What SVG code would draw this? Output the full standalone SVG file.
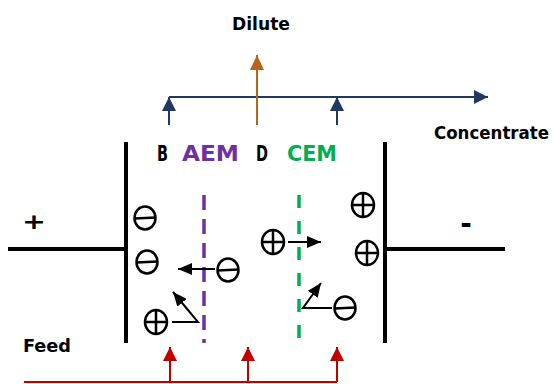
<svg xmlns="http://www.w3.org/2000/svg" width="553" height="384" viewBox="0 0 553 384">
  <style>
    .lbl { font-family: "DejaVu Sans", Verdana, sans-serif; font-weight: bold; }
    .electrode { stroke: #000; stroke-width: 4; fill: none; }
    .ion { fill: none; stroke: #000; stroke-width: 2.5; }
    .move { fill: none; stroke: #000; stroke-width: 2; marker-end: url(#headBlack); }
    .blue { stroke: #1F3864; stroke-width: 2; fill: none; marker-end: url(#headBlue); }
    .red { stroke: #C00000; stroke-width: 2; fill: none; }
    .redArrow { stroke: #C00000; stroke-width: 2; fill: none; marker-end: url(#headRed); }
    .orange { stroke: #B8651B; stroke-width: 2; fill: none; marker-end: url(#headOrange); }
  </style>
  <defs>
    <marker id="headBlue" markerUnits="userSpaceOnUse" markerWidth="14" markerHeight="14" refX="14" refY="7" orient="auto">
      <path d="M0,0 L14,7 L0,14 z" fill="#1F3864"/>
    </marker>
    <marker id="headOrange" markerUnits="userSpaceOnUse" markerWidth="15" markerHeight="14" refX="15" refY="7" orient="auto">
      <path d="M0,0 L15,7 L0,14 z" fill="#B8651B"/>
    </marker>
    <marker id="headRed" markerUnits="userSpaceOnUse" markerWidth="14" markerHeight="14" refX="14" refY="7" orient="auto">
      <path d="M0,0 L14,7 L0,14 z" fill="#C00000"/>
    </marker>
    <marker id="headBlack" markerUnits="userSpaceOnUse" markerWidth="14" markerHeight="12" refX="14" refY="6" orient="auto">
      <path d="M0,0 L14,6 L0,12 z" fill="#000"/>
    </marker>
    <g id="anion">
      <ellipse cx="0" cy="0" rx="10.5" ry="11.5" class="ion"/>
      <line x1="-10.5" y1="0.5" x2="10.5" y2="-0.5" class="ion"/>
    </g>
    <g id="cation">
      <ellipse cx="0" cy="0" rx="11" ry="12" class="ion"/>
      <line x1="-11" y1="0" x2="11" y2="0" class="ion"/>
      <line x1="0" y1="-12" x2="0" y2="12" class="ion"/>
    </g>
  </defs>

  <rect width="553" height="384" fill="#fff"/>

  <!-- electrodes -->
  <g id="anode">
    <line x1="126" y1="142" x2="126" y2="343" class="electrode"/>
    <line x1="8" y1="249" x2="126" y2="249" class="electrode"/>
    <text class="lbl" x="0" y="0" font-size="22" text-anchor="middle" transform="translate(34,229) scale(1.3,1)">+</text>
  </g>
  <g id="cathode">
    <line x1="385" y1="142" x2="385" y2="343" class="electrode"/>
    <line x1="385" y1="249" x2="505" y2="249" class="electrode"/>
    <text class="lbl" x="466" y="233" font-size="28" text-anchor="middle">-</text>
  </g>

  <!-- membranes -->
  <g id="aem">
    <line x1="204" y1="195" x2="204" y2="343" stroke="#7030A0" stroke-width="3.5" stroke-dasharray="15 9"/>
  </g>
  <g id="cem">
    <line x1="299" y1="195" x2="299" y2="343" stroke="#00B050" stroke-width="3.5" stroke-dasharray="13 13"/>
  </g>

  <!-- compartment and stream labels -->
  <g id="labels">
    <text class="lbl" x="157" y="161" font-size="21" textLength="11" lengthAdjust="spacingAndGlyphs" fill="#000">B</text>
    <text class="lbl" x="182" y="161" font-size="21" textLength="57" lengthAdjust="spacingAndGlyphs" fill="#7030A0">AEM</text>
    <text class="lbl" x="256" y="161" font-size="21" textLength="12" lengthAdjust="spacingAndGlyphs" fill="#000">D</text>
    <text class="lbl" x="287" y="161" font-size="21" textLength="50" lengthAdjust="spacingAndGlyphs" fill="#00B050">CEM</text>
    <text class="lbl" x="232" y="30" font-size="18" textLength="58" lengthAdjust="spacingAndGlyphs">Dilute</text>
    <text class="lbl" x="434" y="139" font-size="17" textLength="115" lengthAdjust="spacingAndGlyphs">Concentrate</text>
    <text class="lbl" x="23" y="352" font-size="18" textLength="48" lengthAdjust="spacingAndGlyphs">Feed</text>
  </g>

  <!-- ions -->
  <g id="ions">
    <use href="#anion" x="145" y="218"/>
    <use href="#anion" x="147" y="262"/>
    <use href="#anion" x="228" y="270"/>
    <use href="#anion" x="345" y="308"/>
    <use href="#cation" x="156" y="322"/>
    <use href="#cation" x="273" y="242"/>
    <use href="#cation" x="363" y="205"/>
    <use href="#cation" x="367" y="253"/>
  </g>

  <!-- connectors -->
  <g id="connectors">
    <!-- concentrate stream -->
    <line x1="169" y1="97" x2="488" y2="97" class="blue"/>
    <line x1="169" y1="125" x2="169" y2="97" class="blue"/>
    <line x1="337" y1="125" x2="337" y2="97" class="blue"/>
    <!-- dilute stream -->
    <line x1="257" y1="125" x2="257" y2="55" class="orange"/>
    <!-- feed stream -->
    <line x1="24" y1="382" x2="337" y2="382" class="red"/>
    <line x1="170" y1="382" x2="170" y2="347" class="redArrow"/>
    <line x1="248" y1="382" x2="248" y2="347" class="redArrow"/>
    <line x1="337" y1="382" x2="337" y2="347" class="redArrow"/>
    <!-- ion transport -->
    <line x1="215" y1="269" x2="178" y2="269" class="move"/>
    <polyline points="172,322 198,322 173,292" class="move"/>
    <line x1="288" y1="242" x2="321" y2="242" class="move"/>
    <polyline points="332,308 303,308 321,283" class="move"/>
  </g>
</svg>
